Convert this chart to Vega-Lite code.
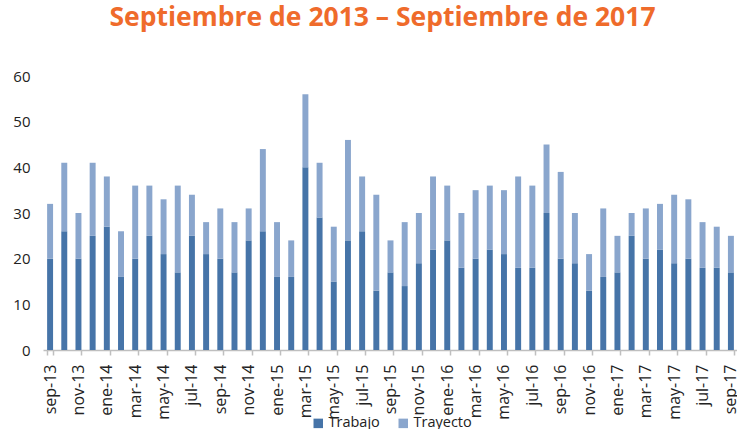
{
  "$schema": "https://vega.github.io/schema/vega-lite/v6.json",
  "autosize": {"type": "none"},
  "width": 695,
  "height": 274,
  "padding": {"left": 43, "top": 76, "right": 0, "bottom": 79},
  "background": "white",
  "title": {
    "text": "Septiembre de 2013 – Septiembre de 2017",
    "font": "Open Sans",
    "fontSize": 26.5,
    "fontWeight": "bold",
    "color": "#EF6B2B",
    "anchor": "middle",
    "dx": -8,
    "offset": 38
  },
  "data": {
    "values": [
      {"mes": "sep-13", "Trabajo": 20, "Trayecto": 12},
      {"mes": "oct-13", "Trabajo": 26, "Trayecto": 15},
      {"mes": "nov-13", "Trabajo": 20, "Trayecto": 10},
      {"mes": "dic-13", "Trabajo": 25, "Trayecto": 16},
      {"mes": "ene-14", "Trabajo": 27, "Trayecto": 11},
      {"mes": "feb-14", "Trabajo": 16, "Trayecto": 10},
      {"mes": "mar-14", "Trabajo": 20, "Trayecto": 16},
      {"mes": "abr-14", "Trabajo": 25, "Trayecto": 11},
      {"mes": "may-14", "Trabajo": 21, "Trayecto": 12},
      {"mes": "jun-14", "Trabajo": 17, "Trayecto": 19},
      {"mes": "jul-14", "Trabajo": 25, "Trayecto": 9},
      {"mes": "ago-14", "Trabajo": 21, "Trayecto": 7},
      {"mes": "sep-14", "Trabajo": 20, "Trayecto": 11},
      {"mes": "oct-14", "Trabajo": 17, "Trayecto": 11},
      {"mes": "nov-14", "Trabajo": 24, "Trayecto": 7},
      {"mes": "dic-14", "Trabajo": 26, "Trayecto": 18},
      {"mes": "ene-15", "Trabajo": 16, "Trayecto": 12},
      {"mes": "feb-15", "Trabajo": 16, "Trayecto": 8},
      {"mes": "mar-15", "Trabajo": 40, "Trayecto": 16},
      {"mes": "abr-15", "Trabajo": 29, "Trayecto": 12},
      {"mes": "may-15", "Trabajo": 15, "Trayecto": 12},
      {"mes": "jun-15", "Trabajo": 24, "Trayecto": 22},
      {"mes": "jul-15", "Trabajo": 26, "Trayecto": 12},
      {"mes": "ago-15", "Trabajo": 13, "Trayecto": 21},
      {"mes": "sep-15", "Trabajo": 17, "Trayecto": 7},
      {"mes": "oct-15", "Trabajo": 14, "Trayecto": 14},
      {"mes": "nov-15", "Trabajo": 19, "Trayecto": 11},
      {"mes": "dic-15", "Trabajo": 22, "Trayecto": 16},
      {"mes": "ene-16", "Trabajo": 24, "Trayecto": 12},
      {"mes": "feb-16", "Trabajo": 18, "Trayecto": 12},
      {"mes": "mar-16", "Trabajo": 20, "Trayecto": 15},
      {"mes": "abr-16", "Trabajo": 22, "Trayecto": 14},
      {"mes": "may-16", "Trabajo": 21, "Trayecto": 14},
      {"mes": "jun-16", "Trabajo": 18, "Trayecto": 20},
      {"mes": "jul-16", "Trabajo": 18, "Trayecto": 18},
      {"mes": "ago-16", "Trabajo": 30, "Trayecto": 15},
      {"mes": "sep-16", "Trabajo": 20, "Trayecto": 19},
      {"mes": "oct-16", "Trabajo": 19, "Trayecto": 11},
      {"mes": "nov-16", "Trabajo": 13, "Trayecto": 8},
      {"mes": "dic-16", "Trabajo": 16, "Trayecto": 15},
      {"mes": "ene-17", "Trabajo": 17, "Trayecto": 8},
      {"mes": "feb-17", "Trabajo": 25, "Trayecto": 5},
      {"mes": "mar-17", "Trabajo": 20, "Trayecto": 11},
      {"mes": "abr-17", "Trabajo": 22, "Trayecto": 10},
      {"mes": "may-17", "Trabajo": 19, "Trayecto": 15},
      {"mes": "jun-17", "Trabajo": 20, "Trayecto": 13},
      {"mes": "jul-17", "Trabajo": 18, "Trayecto": 10},
      {"mes": "ago-17", "Trabajo": 18, "Trayecto": 9},
      {"mes": "sep-17", "Trabajo": 17, "Trayecto": 8}
    ]
  },
  "transform": [
    {"fold": ["Trabajo", "Trayecto"], "as": ["tipo", "valor"]}
  ],
  "mark": {"type": "bar"},
  "encoding": {
    "x": {
      "field": "mes",
      "type": "nominal",
      "sort": null,
      "scale": {"paddingInner": 0.58, "paddingOuter": 0.29},
      "axis": {
        "title": null,
        "values": ["sep-13","nov-13","ene-14","mar-14","may-14","jul-14","sep-14","nov-14","ene-15","mar-15","may-15","jul-15","sep-15","nov-15","ene-16","mar-16","may-16","jul-16","sep-16","nov-16","ene-17","mar-17","may-17","jul-17","sep-17"],
        "labelAngle": -90,
        "labelFont": "Open Sans",
        "labelFontSize": 16,
        "labelColor": "#222222",
        "labelPadding": 9,
        "tickBand": "extent",
        "tickSize": 5,
        "tickColor": "#BFBFBF",
        "tickWidth": 1.5,
        "domainColor": "#BFBFBF",
        "domainWidth": 1.5
      }
    },
    "y": {
      "field": "valor",
      "type": "quantitative",
      "stack": "zero",
      "scale": {"domain": [0, 60]},
      "axis": {
        "title": null,
        "values": [0, 10, 20, 30, 40, 50, 60],
        "grid": false,
        "domain": false,
        "ticks": false,
        "labelFont": "Open Sans",
        "labelFontSize": 15,
        "labelColor": "#222222",
        "labelPadding": 13
      }
    },
    "color": {
      "field": "tipo",
      "type": "nominal",
      "scale": {"domain": ["Trabajo", "Trayecto"], "range": ["#4674A8", "#8AA6CD"]},
      "legend": {
        "title": null,
        "orient": "none",
        "legendX": 268,
        "legendY": 340,
        "direction": "horizontal",
        "symbolType": "square",
        "symbolSize": 90,
        "symbolStrokeWidth": 0,
        "labelFont": "Open Sans",
        "labelFontSize": 14.5,
        "labelOffset": 3,
        "labelColor": "#222222",
        "columnPadding": 16
      }
    },
    "order": {"field": "tipo", "sort": "ascending"}
  },
  "config": {"view": {"stroke": null}}
}
